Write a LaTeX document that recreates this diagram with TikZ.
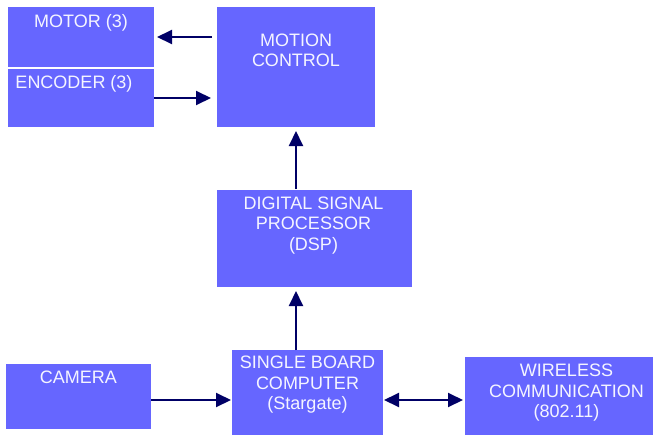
\documentclass[tikz,border=0pt]{standalone}
\usepackage{fontspec}
\setmainfont{Liberation Sans}
\usetikzlibrary{arrows.meta}
\definecolor{boxblue}{RGB}{102,102,255}
\definecolor{navy}{RGB}{0,0,102}
\definecolor{txtwhite}{RGB}{245,245,255}
\begin{document}
\begin{tikzpicture}[x=1pt,y=-1pt,
  box/.style={rectangle,fill=boxblue,draw=none,inner sep=0pt,outer sep=0pt,anchor=north west},
  txt/.style={text=txtwhite,font=\fontsize{18}{20.5}\selectfont,align=center,inner sep=0pt,anchor=north},
  conn/.style={draw=navy,line width=2pt,-{Triangle[length=15pt,width=14pt]}},
  dconn/.style={draw=navy,line width=2pt,{Triangle[length=15pt,width=14pt]}-{Triangle[length=15pt,width=14pt]}}]
\useasboundingbox (0,0) rectangle (653,434);
\clip (0,0) rectangle (653,434);
% boxes
\node[box,minimum width=146pt,minimum height=60pt] (motor) at (8,7) {};
\node[box,minimum width=146pt,minimum height=58pt] (encoder) at (8,69) {};
\node[box,minimum width=158pt,minimum height=120pt] (motion) at (217,7) {};
\node[box,minimum width=195pt,minimum height=97pt] (dsp) at (217,190) {};
\node[box,minimum width=151pt,minimum height=100pt] (sbc) at (232,350) {};
\node[box,minimum width=145pt,minimum height=65pt] (camera) at (6,364) {};
\node[box,minimum width=200pt,minimum height=86pt] (wireless) at (465,357) {};
% texts
\node[txt] (tmotor) at ([yshift=-7pt]motor.north) {MOTOR (3)};
\node[txt] (tencoder) at ([xshift=-7pt,yshift=-6.5pt]encoder.north) {ENCODER (3)};
\node[txt] (tmotion) at ([yshift=-26.5pt]motion.north) {MOTION\\CONTROL};
\node[txt] (tdsp) at ([xshift=-1pt,yshift=-6.5pt]dsp.north) {DIGITAL SIGNAL\\PROCESSOR\\(DSP)};
\node[txt] (tsbc) at ([yshift=-6pt]sbc.north) {SINGLE BOARD\\COMPUTER\\(Stargate)};
\node[txt] (tcamera) at ([yshift=-7pt]camera.north) {CAMERA};
\node[txt] (twireless) at ([xshift=1.5pt,yshift=-7pt]wireless.north) {WIRELESS\\COMMUNICATION\\(802.11)};
% connectors
\draw[conn,shorten <=5pt,shorten >=3pt] (motion.west |- motor.east) -- (motor.east);
\draw[conn,shorten >=6pt] (encoder.east) -- (motion.west |- encoder.east);
\draw[conn,shorten <=1pt,shorten >=4pt] (dsp.north -| motion.south) -- (motion.south);
\draw[conn,shorten >=4pt] (sbc.north -| motion.south) -- (dsp.south -| motion.south);
\draw[conn,shorten >=1pt] (camera.east |- sbc.west) -- (sbc.west);
\draw[dconn,shorten <=1pt,shorten >=2pt] (sbc.east) -- (wireless.west);
\end{tikzpicture}
\end{document}
